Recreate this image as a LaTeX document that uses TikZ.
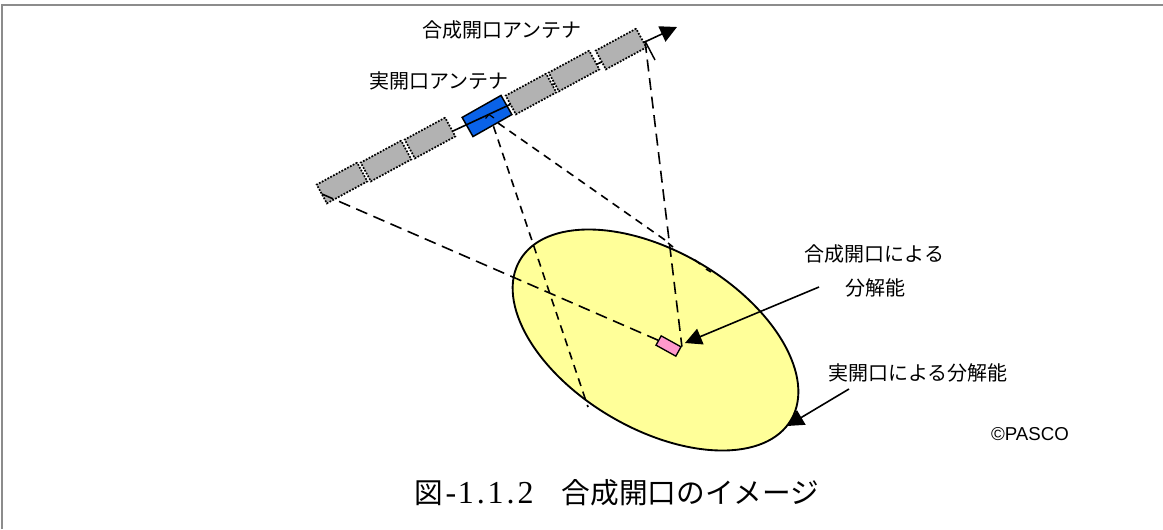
\documentclass[tikz,border=0pt]{standalone}
\usepackage{fontspec}
\setmainfont{Noto Sans CJK JP}
\newfontfamily\latinf{Liberation Sans}
\newfontfamily\capf{Liberation Serif}
\newcommand{\hw}[1]{\makebox[11.2pt]{\capf\fontsize{24}{24}\selectfont #1}}
\usetikzlibrary{arrows.meta,shapes.geometric}
\definecolor{antgray}{HTML}{B2B2B2}
\definecolor{antblue}{HTML}{0A62E8}
\definecolor{spotyellow}{HTML}{FFFF99}
\definecolor{cellpink}{HTML}{FF99CC}
\tikzset{
  x=.75pt,y=-.75pt,
  grayant/.style={draw=black,dash pattern=on 1.3pt off 1.1pt,line width=1.3pt,fill=antgray,rotate=28.5,minimum width=34.5pt,minimum height=16pt,inner sep=0pt},
  realant/.style={draw=black,line width=1.1pt,fill=antblue,rotate=29.5,minimum width=33.5pt,minimum height=16.5pt,inner sep=0pt},
  pinkcell/.style={draw=black,line width=1pt,fill=cellpink,rotate=-29,minimum width=17pt,minimum height=8pt,inner sep=0pt},
  label/.style={font=\fontsize{15}{18}\selectfont,inner sep=0pt},
  dash1/.style={line width=1.2pt,dash pattern=on 9pt off 5pt},
  dash2/.style={line width=1.2pt,dash pattern=on 6pt off 4.5pt},
  arrowline/.style={line width=1.2pt,-{Triangle[length=12.5pt,width=12.5pt]}},
}
\begin{document}
\begin{tikzpicture}
\useasboundingbox (0,0) rectangle (1163,529);
\draw[black!45,line width=1.2pt] (2,529) -- (2,5) -- (1163,5);
% dashed lines that start under the real antenna
\coordinate (bluefoot1) at (489,113);
\coordinate (spotedge) at (588,407);
\coordinate (bluefoot2) at (498,123);
\coordinate (rightend) at (665,240);
\draw[dash2] (bluefoot2) -- (rightend);
\node[ellipse,draw=black,line width=1.4pt,fill=spotyellow,rotate=-30.5,minimum width=236pt,minimum height=133pt,inner sep=0pt] (spot) at (655.5,340) {};
\draw[dash2] (bluefoot1) -- (spotedge);
\draw[line width=1.2pt] (668,243) -- (673,247) (695,260) -- (700,264) (706,269) -- (711,272);
% antennas
\node[realant] (ant4) at (487,116) {};
\coordinate (lineL) at (453,131);
\coordinate (tip) at (677,27);
\draw[arrowline] (lineL) -- (tip);
\draw[line width=.9pt] (485.5,118.5) -- (489,114.5) -- (494,118);
\node[grayant] (ant1) at (342,183) {};
\node[grayant] (ant2) at (386,161) {};
\node[grayant] (ant3) at (430,138) {};
\node[grayant] (ant5) at (531,94) {};
\node[grayant] (ant6) at (574,71) {};
\node[grayant] (ant7) at (621,49) {};
\node[pinkcell] (cell) at (668.5,346) {};
% beams
\coordinate (leftfoot) at (322,194);
\coordinate (rightfoot) at (645,41);
\coordinate (tickend) at (655,60);
\draw[dash1] (leftfoot) -- (cell.west);
\draw[dash1] (rightfoot) -- (cell.north east);
\draw[line width=1.1pt] (rightfoot) -- (tickend);
% labels
\node[label] (l1) at (502,30) {合成開口アンテナ};
\node[label] (l2) at (439,81) {実開口アンテナ};
\node[label] (l3) at (874.5,254) {合成開口による};
\node[label] (l4) at (875,288) {分解能};
\node[label] (l5) at (918,373) {実開口による分解能};
\node[inner sep=0pt,font=\latinf\fontsize{14}{16}\selectfont] (cr) at (1030,434) {©PASCO};
\node[inner sep=0pt,font=\fontsize{21.5}{24}\selectfont] (cap) at (617,493) {図\hw{-}\hw{1}\hw{.}\hw{1}\hw{.}\hw{2}\hspace{21.5pt}合成開口のイメージ};
\coordinate (a1) at (819,287);
\coordinate (a1t) at (685,343);
\coordinate (a2) at (849,389);
\coordinate (a2t) at (787,426);
\draw[arrowline] (a1) -- (a1t);
\draw[arrowline] (a2) -- (a2t);
\end{tikzpicture}
\end{document}
